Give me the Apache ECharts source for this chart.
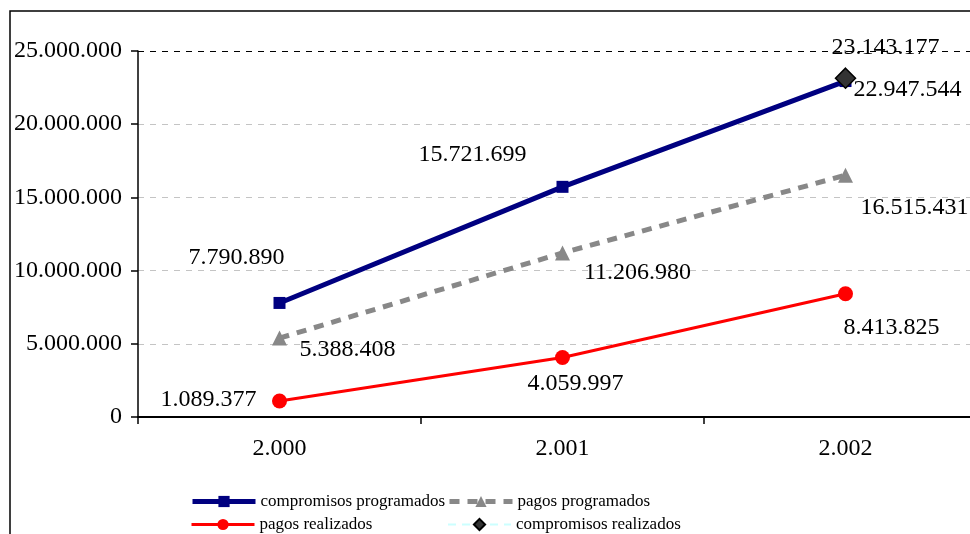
<!DOCTYPE html>
<html>
<head>
<meta charset="utf-8">
<script src="https://cdn.jsdelivr.net/npm/echarts@6/dist/echarts.min.js"></script>
<style>
  html, body { margin: 0; padding: 0; background: #fff; }
  #chart { width: 970px; height: 534px; }
</style>
</head>
<body>
<div id="chart"></div>
<script>
const years = ['2.000', '2.001', '2.002']
const compromisosProgramados = [7790890, 15721699, 22947544]
const pagosProgramados = [5388408, 11206980, 16515431]
const pagosRealizados = [1089377, 4059997, 8413825]
const compromisosRealizados = [null, null, 23143177]

// label offsets from each point (label centre minus point)
const cpOffsets = [[-43, -45], [-90, -32], [62, 9]]
const ppOffsets = [[68, 12], [75, 20], [69, 32]]
const prOffsets = [[-71, -1], [13, 26], [46, 34]]
const crOffsets = [null, null, [40, -30]]

const FONT = 'Liberation Serif'
const FS = 24

function fmt(v) {
  return String(v).replace(/\B(?=(\d{3})+(?!\d))/g, '.')
}

function withLabels(values, offsets) {
  return values.map((v, i) => {
    if (v == null) return null
    return {
      value: v,
      label: {
        show: true,
        position: 'inside',
        offset: offsets[i],
        formatter: (p) => fmt(p.value),
        color: '#000',
        fontFamily: FONT,
        fontSize: FS
      }
    }
  })
}

const chart = echarts.init(document.getElementById('chart'))

const legendBase = {
  itemWidth: 63,
  itemHeight: 14,
  padding: 0,
  textStyle: { fontFamily: FONT, fontSize: 17, color: '#000' },
  selectedMode: false
}

chart.setOption({
  animation: false,
  backgroundColor: '#fff',
  graphic: [
    {
      type: 'rect',
      shape: { x: 10, y: 11, width: 1000, height: 600 },
      style: { fill: 'none', stroke: '#000', lineWidth: 1.5 },
      silent: true
    }
  ],
  grid: { left: 138, top: 51, width: 849, bottom: 117, outerBoundsMode: 'none' },
  legend: [
    Object.assign({ data: [{ name: 'compromisos programados', lineStyle: { width: 5 } }], left: 190, top: 493 }, legendBase),
    Object.assign({ data: [{ name: 'pagos programados', lineStyle: { width: 5 } }], left: 447, top: 493 }, legendBase),
    Object.assign({ data: [{ name: 'pagos realizados', lineStyle: { width: 3 } }], left: 190, top: 516 }, legendBase),
    Object.assign({ data: [{ name: 'compromisos realizados', lineStyle: { width: 2 } }], left: 447, top: 516 }, legendBase)
  ],
  xAxis: {
    type: 'category',
    data: years,
    boundaryGap: true,
    axisLine: { lineStyle: { color: '#000', width: 2 } },
    axisTick: { show: true, inside: false, length: 7, interval: 0, lineStyle: { color: '#000', width: 1.5 } },
    axisLabel: { color: '#000', fontFamily: FONT, fontSize: FS, margin: 20 },
    splitLine: { show: false }
  },
  yAxis: {
    type: 'value',
    min: 0,
    max: 25000000,
    interval: 5000000,
    axisLine: { show: true, lineStyle: { color: '#000', width: 1.5 } },
    axisTick: { show: true, inside: false, length: 7, lineStyle: { color: '#000', width: 1.5 } },
    axisLabel: {
      color: '#000',
      fontFamily: FONT,
      fontSize: FS,
      margin: 16,
      formatter: (v) => fmt(v)
    },
    splitLine: {
      show: true,
      lineStyle: {
        type: [6, 6],
        color: ['#c4c4c4', '#c4c4c4', '#c4c4c4', '#c4c4c4', '#c4c4c4', '#000'],
        width: 1
      }
    }
  },
  series: [
    {
      name: 'pagos programados',
      type: 'line',
      data: withLabels(pagosProgramados, ppOffsets),
      symbol: 'triangle',
      symbolSize: 15,
      itemStyle: { color: '#888888' },
      lineStyle: { color: '#888888', width: 5, type: [10, 8] },
      z: 2
    },
    {
      name: 'pagos realizados',
      type: 'line',
      data: withLabels(pagosRealizados, prOffsets),
      symbol: 'circle',
      symbolSize: 15,
      itemStyle: { color: '#ff0000' },
      lineStyle: { color: '#ff0000', width: 3 },
      z: 3
    },
    {
      name: 'compromisos programados',
      type: 'line',
      data: withLabels(compromisosProgramados, cpOffsets),
      symbol: 'rect',
      symbolSize: 12,
      itemStyle: { color: '#000080' },
      lineStyle: { color: '#000080', width: 5 },
      z: 4
    },
    {
      name: 'compromisos realizados',
      type: 'line',
      data: withLabels(compromisosRealizados, crOffsets),
      symbol: 'diamond',
      symbolSize: 20,
      itemStyle: { color: '#333333', borderColor: '#000', borderWidth: 1.5 },
      lineStyle: { color: '#ccffff', width: 2, type: [8, 6] },
      z: 5
    }
  ]
})
</script>
</body>
</html>
